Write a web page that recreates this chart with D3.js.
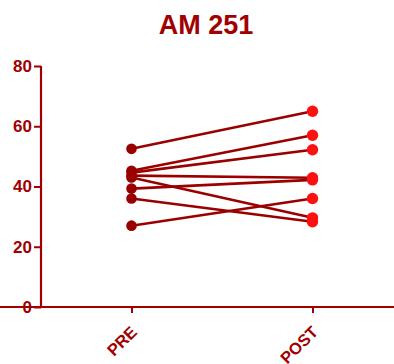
<!DOCTYPE html>
<html><head><meta charset="utf-8">
<script src="https://cdn.jsdelivr.net/npm/d3@7"></script>
<style>body{margin:0;background:#fff}svg{display:block}</style>
</head><body>
<script>
const title = "AM 251";
const categories = ["PRE", "POST"];
const preValues  = [52.5, 45.2, 44.6, 43.6, 43.0, 39.3, 36.0, 27.0];
const postValues = [65.0, 57.0, 52.2, 42.9, 29.6, 42.2, 28.3, 36.0];
const yTicks = [0, 20, 40, 60, 80];

const W = 394, H = 364;
const dark = "#a00000", lineCol = "#9b0000", preCol = "#990000", postCol = "#ff1010";
const svg = d3.select("body").append("svg").attr("width", W).attr("height", H);

const x = d3.scalePoint().domain(categories).range([41, 403]).padding(0.5);
const y = d3.scaleLinear().domain([0, 80]).range([307, 66]);

svg.append("text").attr("x", 206).attr("y", 34).attr("text-anchor", "middle")
  .attr("font-family", "Liberation Sans, Arial, sans-serif").attr("font-weight", "bold")
  .attr("font-size", 27).attr("fill", dark).text(title);

const ya = svg.append("g").attr("transform", "translate(41,0)")
  .call(d3.axisLeft(y).tickValues(yTicks).tickSize(7).tickPadding(2));
const xa = svg.append("g").attr("transform", "translate(0,307)")
  .call(d3.axisBottom(x).tickSize(6).tickPadding(4));
[ya, xa].forEach(a => {
  a.select(".domain").attr("stroke", dark).attr("stroke-width", 2.2);
  a.selectAll(".tick line").attr("stroke", dark).attr("stroke-width", 2);
  a.selectAll("text").attr("fill", dark).attr("font-family", "Liberation Sans, Arial, sans-serif")
    .attr("font-weight", "bold").attr("font-size", 17);
});
ya.select(".domain").attr("d", `M0,${y(0)}V${y(80)}`);
xa.select(".domain").attr("d", `M0,0H${W}`);
xa.selectAll("text").attr("font-size", 16.5).attr("text-anchor", "end")
  .attr("x", 0).attr("y", 0).attr("dy", "0.35em").attr("transform", "translate(2,22) rotate(-45)");

const pairs = preValues.map((v, i) => [v, postValues[i]]);
svg.append("g").selectAll("line").data(pairs).join("line")
  .attr("x1", x("PRE")).attr("x2", x("POST"))
  .attr("y1", d => y(d[0])).attr("y2", d => y(d[1]))
  .attr("stroke", lineCol).attr("stroke-width", 2.6);
svg.append("g").selectAll("circle").data(preValues).join("circle")
  .attr("cx", x("PRE")).attr("cy", d => y(d)).attr("r", 5.3).attr("fill", preCol);
svg.append("g").selectAll("circle").data(postValues).join("circle")
  .attr("cx", x("POST")).attr("cy", d => y(d)).attr("r", 5.7).attr("fill", postCol);
</script>
</body></html>
